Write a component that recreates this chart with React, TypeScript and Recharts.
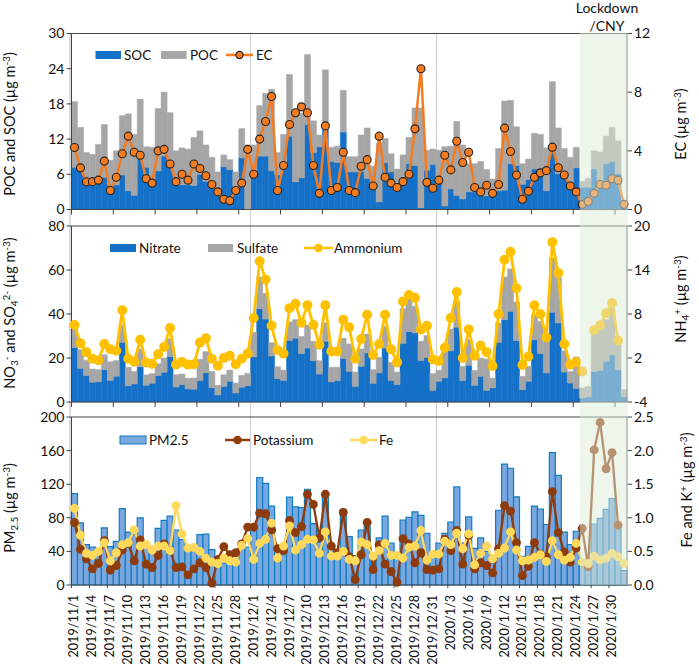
import { Bar, ComposedChart, Line, ReferenceLine, XAxis, YAxis } from 'recharts';

const monthDays: [string, number][] = [
  ['2019/11', 30],
  ['2019/12', 31],
  ['2020/1', 31],
  ['2020/2', 1],
];
const dates = monthDays.flatMap(([m, n]) => Array.from({ length: n }, (_, i) => `${m}/${i + 1}`));

const soc = [7.2, 7, 5, 5, 5.5, 5.5, 4.2, 4.2, 5.9, 3.2, 2.4, 8.7, 7.2, 5, 6.6, 9.1, 7.8, 4.7, 4.2, 4.2, 4.1, 6, 4.8, 4.7, 3, 7.3, 6.8, 3.9, 8.8, 0.1, 6.5, 9.1, 9.1, 6.6, 5.9, 6.9, 12.5, 4.7, 5.4, 14.5, 9.7, 10.7, 13.8, 8.2, 8, 13.2, 6.4, 6.4, 6.5, 5.3, 4, 1.3, 8, 6.4, 4.3, 4.7, 7.8, 7.5, 0.3, 6.7, 7.7, 4.7, 0.6, 3.5, 2.4, 1.8, 3, 3, 2.6, 2.3, 2.2, 3.2, 3.3, 7.8, 7.5, 4.3, 5.1, 6.9, 6.9, 3.2, 10.1, 6.1, 5.6, 3.6, 7.1, 3.8, 3.8, 6.9, 4.7, 7.8, 8.2, 6.1, 0.5];
const poc = [11.2, 7, 4.7, 4.4, 5.6, 9, 4.2, 5.8, 10.1, 13.1, 10.4, 10.1, 3.5, 5.6, 10.6, 10.9, 8.7, 5.3, 6.3, 6.1, 8.2, 7.4, 6.2, 4.2, 3.4, 2, 1.7, 2.5, 5, 10.9, 4.5, 8.6, 10.7, 13.9, 3.8, 5.9, 10.5, 12.3, 11, 11.9, 5.4, 2, 10, 2.4, 2.8, 7.1, 2.6, 2.6, 6.2, 8.6, 3.4, 10, 4.1, 3.1, 2.6, 4.6, 4.5, 9.8, 17, 3.4, 2.6, 5.4, 10.1, 7.3, 12.6, 9.2, 4.8, 4.8, 5.6, 4.5, 3, 7.2, 15.2, 10.8, 6.6, 3.5, 3.5, 6.1, 5.9, 7.3, 11.7, 7.8, 4.8, 5.3, 3.5, 1, 1.5, 3.1, 5.1, 4.7, 5.8, 5.6, 0.8];
const ec = [4.23, 2.84, 1.89, 1.9, 2, 3.3, 1.3, 2.2, 3.8, 5, 3.9, 3.7, 2.1, 1.8, 4, 4.1, 3.1, 1.9, 2.4, 2, 3.1, 2.8, 2.3, 1.7, 1.2, 0.7, 0.6, 1.3, 1.8, 4.1, 2.4, 4.8, 6, 7.7, 1.3, 3, 5.8, 6.6, 7, 6.6, 3, 1.1, 5.7, 1.3, 1.5, 3.9, 1.3, 1.15, 2.95, 3.4, 1.6, 5, 2.2, 1.8, 1.5, 1.9, 2.4, 5.5, 9.6, 1.85, 1.45, 2, 3.7, 2.7, 4.65, 3.2, 3.9, 1.5, 1.2, 1.65, 1.1, 1.7, 5.55, 3.95, 2.35, 0.7, 1.25, 2.2, 2.5, 2.65, 4.25, 2.85, 2.35, 1.6, 1.2, 0.35, 0.55, 1.1, 1.7, 1.65, 2.1, 2, 0.35];

const nitrate = [24.8, 15.3, 12.1, 9, 9.2, 14.7, 9.8, 11.7, 27.1, 7.4, 8.2, 16, 7.6, 8.5, 12, 13.5, 20.6, 6.8, 7.9, 5.9, 5.8, 9.7, 13.3, 6.5, 3.2, 7.1, 9.4, 4.1, 6.7, 7.4, 20.5, 42.4, 37.7, 20.9, 10.6, 9.8, 28, 29, 22, 24.5, 18.8, 12.7, 27.6, 9.1, 9.7, 19.8, 13.9, 7.1, 16.2, 22.3, 8.5, 13.2, 24.5, 9.8, 7.9, 26.7, 32, 31.4, 18.9, 20.2, 5.3, 9.4, 10.9, 23.3, 34, 9.7, 16.7, 7.6, 11.7, 5.3, 6.4, 27.1, 37.4, 41.2, 27.9, 5.6, 9.4, 28.3, 22, 13.2, 40.8, 35.9, 13.6, 8.6, 6.1, 1.8, 2.3, 13.9, 14.4, 18.5, 21.5, 14.7, 2.3];
const sulfate = [8.8, 8.5, 6.9, 6, 5.5, 6.8, 8.5, 7.1, 7.9, 8.4, 5.7, 8.2, 4.7, 4.4, 5.4, 6.5, 8.2, 5.6, 4.8, 4.9, 5.1, 9.7, 9.6, 7.4, 4.4, 5.3, 5.1, 4.5, 5.4, 5.6, 11.2, 14.4, 11.7, 6.1, 5.4, 4.7, 8.4, 8.4, 7.8, 10.5, 8.8, 6.1, 8.4, 6.7, 6.1, 9.2, 12.5, 6.5, 7.9, 8.6, 6.2, 7.1, 9.9, 8.2, 5.7, 15.7, 15, 12.1, 8.7, 10, 7.6, 5, 12.1, 9.9, 11.8, 6.5, 11.9, 6.8, 8.3, 14.2, 4.5, 8.8, 19.4, 19.3, 17.6, 6.1, 6.8, 11.4, 14.7, 14.1, 24.7, 20.9, 9.7, 5.3, 14.4, 4.6, 4.8, 18.2, 19.2, 18.9, 21.2, 11.3, 3.3];
const ammonium = [6.5, 4, 2.8, 1.9, 1.7, 3.9, 3.2, 3, 8.5, 1.9, 1.5, 4.5, 1.4, 1.2, 2.5, 3.5, 6.1, 1.1, 1.45, 1.1, 1.15, 4.1, 4.7, 1.9, 0.95, 2, 2.3, 1.15, 1.9, 2.6, 7.45, 15.2, 12.7, 6.4, 3.1, 2.6, 8.8, 9.4, 6.8, 9.2, 6.5, 3.8, 9.2, 2.9, 2.9, 7.2, 6.2, 1.9, 4.6, 7.9, 2.4, 3.9, 7.9, 3.2, 1.4, 9.7, 10.6, 10.2, 5.9, 6.4, 1.8, 1.6, 3.4, 7.45, 11, 2, 5.9, 2.3, 3.7, 2.8, 0.9, 8, 15.4, 16.5, 11.5, 1.05, 2.2, 9.2, 8, 4.8, 17.8, 13.6, 3.9, 1.1, 1.45, 0.15, null, 5.8, 6.45, 8.1, 9.5, 4.4, null];

const pm25 = [108.7, 74, 48, 45, 43.6, 68, 45.6, 52, 91, 63, 60, 80, 50, 46, 67.5, 77, 82, 65.5, 54, 45, 45, 60, 60.5, 42, 31, 26, 34, 30, 50, 45, 70, 128, 121, 94, 45, 47, 104.5, 93, 92, 114, 73, 51, 106, 45, 40, 90, 57.5, 35, 65.5, 69.4, 35, 56, 82, 50, 34, 77.4, 80.5, 87, 83, 61.5, 38, 50, 61.5, 75, 116.7, 50, 81, 43.6, 56, 40, 26, 89, 144, 139, 105, 34, 46, 94, 90.5, 72, 157.5, 130.5, 63, 48, 64, 22, 30, 72.6, 79.4, 90, 103, 69, 17];
const potassium = [0.93, 0.53, 0.39, 0.24, 0.32, 0.66, 0.22, 0.29, 0.52, 0.62, 0.36, 0.67, 0.31, 0.26, 0.44, 0.61, 0.51, 0.26, 0.27, 0.15, 0.24, 0.33, 0.26, 0.03, 0.38, 0.57, 0.45, 0.48, 0.61, 0.86, 0.86, 1.07, 1.06, 0.82, 0.54, 0.51, 0.96, 0.78, 0.87, 1.35, 1.2, 0.7, 1.35, 0.58, 0.48, 1.08, 0.42, 0.08, 0.45, 0.93, 0.23, 0.6, 0.31, 0.2, 0.04, 0.69, 0.61, 0.33, 0.48, 0.23, 0.22, 0.24, 0.68, 0.51, 0.81, 0.31, 0.74, 0.24, 0.33, 0.29, 0.18, 0.54, 1.18, 1.1, 0.63, 0.14, 0.28, 0.63, 0.46, 0.42, 1.39, 0.78, 0.49, 0.34, 0.55, 0.84, 0.27, 2.01, 2.42, 1.73, 1.97, 0.89, null];
const iron = [1.14, 0.74, 0.47, 0.44, 0.5, 0.63, 0.36, 0.48, 0.6, 0.63, 0.82, 0.58, 0.6, 0.52, 0.58, 0.58, 0.51, 1.18, 0.76, 0.55, 0.56, 0.5, 0.4, 0.34, 0.32, 0.4, 0.36, 0.34, 0.59, 0.69, 0.38, 0.62, 0.68, 0.92, 0.4, 0.58, 0.88, 0.52, 0.6, 0.68, 0.67, 0.47, 0.79, 0.43, 0.43, 0.5, 0.38, 0.36, 0.64, 0.6, 0.43, 0.51, 0.62, 0.44, 0.44, 0.4, 0.56, 0.58, 0.81, 0.37, 0.46, 0.46, 0.65, 0.6, 0.77, 0.54, 0.76, 0.3, 0.47, 0.58, 0.39, 0.47, 0.55, 0.79, 0.52, 0.36, 0.37, 0.41, 0.45, 0.35, 0.66, 0.45, 0.37, 0.41, 0.62, 0.34, 0.32, 0.43, 0.37, 0.4, 0.47, 0.42, 0.32];

const carbonRows = dates.map((date, i) => ({ date, SOC: soc[i], POC: poc[i], EC: ec[i] }));
const ionRows = dates.map((date, i) => ({ date, Nitrate: nitrate[i], Sulfate: sulfate[i], Ammonium: ammonium[i] }));
const massRows = dates.map((date, i) => ({ date, PM25: pm25[i], Potassium: potassium[i], Fe: iron[i] }));

const INK = '#111';
const AXIS = '#444';
const BLUE = '#1570C8';
const GREY = '#A6A6A6';
const ORANGE = '#F47B20';
const AMBER = '#FFC000';
const BROWN = '#8E3B0E';
const PALE = '#FFD95A';
const tickStyle = { fontSize: 14, fill: INK };

type Part = { t: string; s?: 'sup' | 'sub' };

function AxisTitle({ x, y, parts }: { x: number; y: number; parts: Part[] }) {
  let prev = 0;
  return (
    <text transform={`translate(${x},${y}) rotate(-90)`} textAnchor="middle" fontSize={14.5} fill={INK}>
      {parts.map((p, i) => {
        const off = p.s === 'sup' ? -5 : p.s === 'sub' ? 3 : 0;
        const dy = off - prev;
        prev = off;
        return (
          <tspan key={i} dy={dy} fontSize={p.s ? 10 : 14.5}>
            {p.t}
          </tspan>
        );
      })}
    </text>
  );
}

// ticks sit on the band edges, not the band centres
function EdgeTick({ x, y }: any) {
  return <line x1={x - 3} x2={x - 3} y1={y} y2={y + 5} stroke={AXIS} strokeWidth={1} />;
}

function DateTick({ x, y, payload }: any) {
  return (
    <g>
      <line x1={x - 3} x2={x - 3} y1={y} y2={y + 3} stroke={AXIS} strokeWidth={1} />
      <text transform={`translate(${x + 4},${y + 10}) rotate(-90)`} textAnchor="end" fontSize={12.6} fill={INK}>
        {payload.value}
      </text>
    </g>
  );
}

type LegendItem = { kind: 'box' | 'line'; x: number; w: number; tx: number; label: string; color: string; edge?: string };

function PlotLegend({ y, items }: { y: number; items: LegendItem[] }) {
  return (
    <g>
      {items.map((it) =>
        it.kind === 'box' ? (
          <g key={it.label}>
            <rect x={it.x} y={y - 4} width={it.w} height={8} fill={it.color} stroke={it.edge ?? 'none'} />
            <text x={it.tx} y={y + 5} fontSize={13.5} fill={INK}>{it.label}</text>
          </g>
        ) : (
          <g key={it.label}>
            <line x1={it.x} x2={it.x + it.w} y1={y} y2={y} stroke={it.color} strokeWidth={2.5} />
            <circle cx={it.x + it.w / 2} cy={y} r={3.6} fill={it.color} stroke={it.edge ?? it.color} strokeWidth={1.1} />
            <text x={it.tx} y={y + 5} fontSize={13.5} fill={INK}>{it.label}</text>
          </g>
        ),
      )}
    </g>
  );
}

const leftAxis = (domain: number[], ticks: number[]) => (
  <YAxis yAxisId="left" width={71.5} domain={domain} ticks={ticks} tick={tickStyle} tickSize={5} interval={0} stroke={AXIS} />
);

export default function App() {
  return (
    <div style={{ position: 'absolute', left: 0, top: 0, width: 699, height: 664, fontFamily: 'Lato, sans-serif', background: '#fff' }}>
      {/* month separators, behind the charts */}
      <div style={{ position: 'absolute', left: 68.5, top: 33, width: 2, height: 552, background: '#DDD' }} />
      <div style={{ position: 'absolute', left: 249.5, top: 33, width: 1, height: 552, background: '#CFCFCF' }} />
      <div style={{ position: 'absolute', left: 435.5, top: 33, width: 1, height: 552, background: '#CFCFCF' }} />

      <div style={{ position: 'absolute', left: 0, top: 0 }}>
        <ComposedChart width={699} height={230} data={carbonRows} barCategoryGap={0} margin={{ top: 33.5, right: 0, bottom: 0, left: 0 }}>
          <XAxis dataKey="date" xAxisId={0} height={20.5} interval={6} tickSize={0} tickMargin={0} tick={EdgeTick} stroke={AXIS} />
          {leftAxis([0, 30], [0, 6, 12, 18, 24, 30])}
          <YAxis yAxisId="right" orientation="right" width={72} domain={[0, 12]} ticks={[0, 4, 8, 12]} tick={tickStyle} tickSize={5} interval={0} stroke={AXIS} />
          <Bar yAxisId="left" dataKey="SOC" stackId="oc" fill={BLUE} stroke={BLUE} strokeWidth={0.5} isAnimationActive={false} />
          <Bar yAxisId="left" dataKey="POC" stackId="oc" fill={GREY} stroke={GREY} strokeWidth={0.5} isAnimationActive={false} />
          <ReferenceLine yAxisId="left" y={30} stroke={AXIS} strokeWidth={1.2} />
          <Line yAxisId="right" dataKey="EC" stroke={ORANGE} strokeWidth={2.5} dot={{ r: 4, fill: ORANGE, stroke: '#222', strokeWidth: 1.1 }} isAnimationActive={false} />
          <PlotLegend
            y={55}
            items={[
              { kind: 'box', x: 95.5, w: 25.5, tx: 124, label: 'SOC', color: BLUE },
              { kind: 'box', x: 161, w: 25.5, tx: 190, label: 'POC', color: GREY },
              { kind: 'line', x: 226, w: 27, tx: 256, label: 'EC', color: ORANGE, edge: '#222' },
            ]}
          />
          <AxisTitle x={15} y={124} parts={[{ t: 'POC and SOC (µg m' }, { t: '-3', s: 'sup' }, { t: ')' }]} />
          <AxisTitle x={686} y={124} parts={[{ t: 'EC (µg m' }, { t: '-3', s: 'sup' }, { t: ')' }]} />
        </ComposedChart>
      </div>

      <div style={{ position: 'absolute', left: 0, top: 215 }}>
        <ComposedChart width={699} height={205} data={ionRows} barCategoryGap={0} margin={{ top: 11, right: 0, bottom: 0, left: 0 }}>
          <XAxis dataKey="date" xAxisId={0} height={18} interval={6} tickSize={0} tickMargin={0} tick={EdgeTick} stroke={AXIS} />
          {leftAxis([0, 80], [0, 20, 40, 60, 80])}
          <YAxis yAxisId="right" orientation="right" width={72} domain={[-4, 20]} ticks={[-4, 2, 8, 14, 20]} tick={tickStyle} tickSize={5} interval={0} stroke={AXIS} />
          <Bar yAxisId="left" dataKey="Nitrate" stackId="ion" fill={BLUE} stroke={BLUE} strokeWidth={0.5} isAnimationActive={false} />
          <Bar yAxisId="left" dataKey="Sulfate" stackId="ion" fill={GREY} stroke={GREY} strokeWidth={0.5} isAnimationActive={false} />
          <ReferenceLine yAxisId="left" y={80} stroke={AXIS} strokeWidth={1.2} />
          <Line yAxisId="right" dataKey="Ammonium" stroke={AMBER} strokeWidth={2.8} dot={{ r: 3.6, fill: AMBER, stroke: AMBER }} isAnimationActive={false} />
          <PlotLegend
            y={33}
            items={[
              { kind: 'box', x: 110, w: 26, tx: 139, label: 'Nitrate', color: BLUE },
              { kind: 'box', x: 208, w: 25, tx: 237, label: 'Sulfate', color: GREY },
              { kind: 'line', x: 304, w: 29, tx: 334, label: 'Ammonium', color: AMBER },
            ]}
          />
          <AxisTitle
            x={15}
            y={98}
            parts={[{ t: 'NO' }, { t: '3', s: 'sub' }, { t: '-', s: 'sup' }, { t: ' and SO' }, { t: '4', s: 'sub' }, { t: '2-', s: 'sup' }, { t: ' (µg m' }, { t: '-3', s: 'sup' }, { t: ')' }]}
          />
          <AxisTitle x={686} y={84} parts={[{ t: 'NH' }, { t: '4', s: 'sub' }, { t: '+', s: 'sup' }, { t: ' (µg m' }, { t: '-3', s: 'sup' }, { t: ')' }]} />
        </ComposedChart>
      </div>

      <div style={{ position: 'absolute', left: 0, top: 405 }}>
        <ComposedChart width={699} height={259} data={massRows} barCategoryGap={0} margin={{ top: 12, right: 0, bottom: 0, left: 0 }}>
          <XAxis dataKey="date" xAxisId={0} height={79} interval={2} tickSize={0} tickMargin={0} tick={DateTick} stroke={AXIS} />
          {leftAxis([0, 200], [0, 40, 80, 120, 160, 200])}
          <YAxis
            yAxisId="right"
            orientation="right"
            width={72}
            domain={[0, 2.5]}
            ticks={[0, 0.5, 1, 1.5, 2, 2.5]}
            tickFormatter={(v: number) => v.toFixed(1)}
            tick={tickStyle}
            tickSize={5}
            interval={0}
            stroke={AXIS}
          />
          <Bar yAxisId="left" dataKey="PM25" name="PM2.5" fill="#7BA7DF" stroke="#0F7DC2" strokeWidth={1.2} isAnimationActive={false} />
          <ReferenceLine yAxisId="left" y={200} stroke={AXIS} strokeWidth={1.2} />
          <Line yAxisId="right" dataKey="Potassium" stroke={BROWN} strokeWidth={2.3} dot={{ r: 3.3, fill: BROWN, stroke: BROWN }} isAnimationActive={false} />
          <Line yAxisId="right" dataKey="Fe" stroke={PALE} strokeWidth={2.3} dot={{ r: 3.3, fill: PALE, stroke: PALE }} isAnimationActive={false} />
          <PlotLegend
            y={35}
            items={[
              { kind: 'box', x: 120, w: 26, tx: 149, label: 'PM2.5', color: '#7BA7DF', edge: '#0F7DC2' },
              { kind: 'line', x: 225, w: 25, tx: 253, label: 'Potassium', color: BROWN },
              { kind: 'line', x: 350, w: 27, tx: 379, label: 'Fe', color: PALE },
            ]}
          />
          <AxisTitle x={15} y={103} parts={[{ t: 'PM' }, { t: '2.5', s: 'sub' }, { t: ' (µg m' }, { t: '-3', s: 'sup' }, { t: ')' }]} />
          <AxisTitle x={692} y={85} parts={[{ t: 'Fe and K' }, { t: '+', s: 'sup' }, { t: ' (µg m' }, { t: '-3', s: 'sup' }, { t: ')' }]} />
        </ComposedChart>
      </div>

      {/* lockdown shading washes out everything under it */}
      <div style={{ position: 'absolute', left: 580, top: 33, width: 48, height: 552, background: 'rgba(221,235,215,0.5)' }} />
      <div style={{ position: 'absolute', left: 560, top: -1, width: 94, textAlign: 'center', fontSize: 14, lineHeight: '18px', color: INK }}>
        Lockdown
        <br />
        /CNY
      </div>
    </div>
  );
}
